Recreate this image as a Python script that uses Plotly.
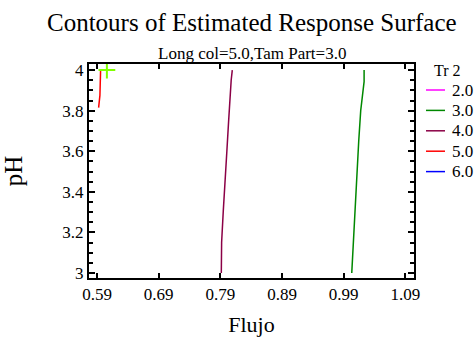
import plotly.graph_objects as go

# Contour levels (legend "Tr 2")
levels = ["2.0", "3.0", "4.0", "5.0", "6.0"]
colors = ["#FF00FF", "#008800", "#8B0046", "#FF0000", "#0000FF"]

# Contour line for level 3.0
x_30 = [1.003, 1.0046, 1.0062, 1.0085, 1.0117, 1.0143, 1.0175, 1.0207, 1.023, 1.023]
y_30 = [3.0, 3.093, 3.207, 3.354, 3.50, 3.65, 3.80, 3.894, 3.943, 4.0]

# Contour line for level 4.0
x_40 = [0.7915, 0.792, 0.7947, 0.798, 0.8005, 0.8033, 0.8049, 0.8075, 0.8093]
y_40 = [3.0, 3.15, 3.305, 3.45, 3.60, 3.746, 3.845, 3.95, 4.0]

# Contour line for level 5.0
x_50 = [0.5926, 0.5947, 0.5958]
y_50 = [3.815, 3.875, 4.0]

# Optimum marker
opt_x = [0.606]
opt_y = [4.0]

x_ticks = [0.59, 0.69, 0.79, 0.89, 0.99, 1.09]
y_ticks = [3.0, 3.2, 3.4, 3.6, 3.8, 4.0]
y_tick_text = ["3", "3.2", "3.4", "3.6", "3.8", "4"]

series = {"2.0": ([None], [None]), "3.0": (x_30, y_30), "4.0": (x_40, y_40),
          "5.0": (x_50, y_50), "6.0": ([None], [None])}

W, H = 476, 337
ML, MR, MT, MB = 89, 62, 64, 59
PW, PH = W - ML - MR, H - MT - MB


def px(xp):
    return (xp - ML) / PW


def py(yp):
    return (H - MB - yp) / PH


FONT = "Times New Roman"
fig = go.Figure()
for lev, col in zip(levels, colors):
    xs, ys = series[lev]
    fig.add_trace(go.Scatter(x=xs, y=ys, mode="lines", name=lev, showlegend=False,
                             line=dict(color=col, width=1.5)))

fig.add_trace(go.Scatter(x=opt_x, y=opt_y, mode="markers", showlegend=False,
                         marker=dict(symbol="cross-thin", size=12,
                                     line=dict(color="#7FFF00", width=2))))

annotations = [
    dict(text="Contours of Estimated Response Surface", xref="paper", yref="paper",
         x=0.5, y=py(22), xanchor="center", yanchor="middle", showarrow=False,
         font=dict(family=FONT, size=25, color="black")),
    dict(text="Long col=5.0,Tam Part=3.0", xref="paper", yref="paper",
         x=0.5, y=py(53), xanchor="center", yanchor="middle",
         showarrow=False, font=dict(family=FONT, size=17, color="black")),
    dict(text="Tr 2", xref="paper", yref="paper", x=px(447), y=py(71),
         xanchor="center", yanchor="middle", showarrow=False,
         font=dict(family=FONT, size=16, color="black")),
]
shapes = []
for i, (lev, col) in enumerate(zip(levels, colors)):
    yy = py(90 + 20.4 * i)
    shapes.append(dict(type="line", xref="paper", yref="paper",
                       x0=px(426), x1=px(445), y0=yy, y1=yy,
                       line=dict(color=col, width=1.5)))
    annotations.append(dict(text=lev, xref="paper", yref="paper", x=px(450), y=yy,
                            xanchor="left", yanchor="middle", showarrow=False,
                            font=dict(family=FONT, size=17, color="black")))

fig.update_layout(
    width=W, height=H,
    margin=dict(l=ML, r=MR, t=MT, b=MB, autoexpand=False),
    paper_bgcolor="white", plot_bgcolor="white",
    font=dict(family=FONT, color="black", size=17),
    showlegend=False,
    annotations=annotations,
    shapes=shapes,
)

fig.update_xaxes(range=[0.577, 1.1039], tickvals=x_ticks,
                 ticktext=[f"{v:.2f}" for v in x_ticks],
                 ticks="inside", ticklen=5, tickwidth=2, tickcolor="black",
                 showline=True, linewidth=2, linecolor="black", mirror="ticks",
                 showgrid=False, zeroline=False, automargin=False,
                 tickfont=dict(family=FONT, size=17),
                 title=dict(text="Flujo", font=dict(family=FONT, size=22), standoff=16))
fig.update_yaxes(range=[2.975, 4.03], tickvals=y_ticks, ticktext=y_tick_text,
                 ticks="inside", ticklen=6, tickwidth=2, tickcolor="black",
                 minor=dict(ticks="inside", ticklen=4, tickwidth=1.5, tickcolor="black",
                            dtick=0.05, tick0=3.0, showgrid=False),
                 showline=True, linewidth=2, linecolor="black", mirror="ticks",
                 showgrid=False, zeroline=False, automargin=False,
                 tickfont=dict(family=FONT, size=17),
                 title=dict(text="pH", font=dict(family=FONT, size=25), standoff=34))

fig.write_html("out.html")
